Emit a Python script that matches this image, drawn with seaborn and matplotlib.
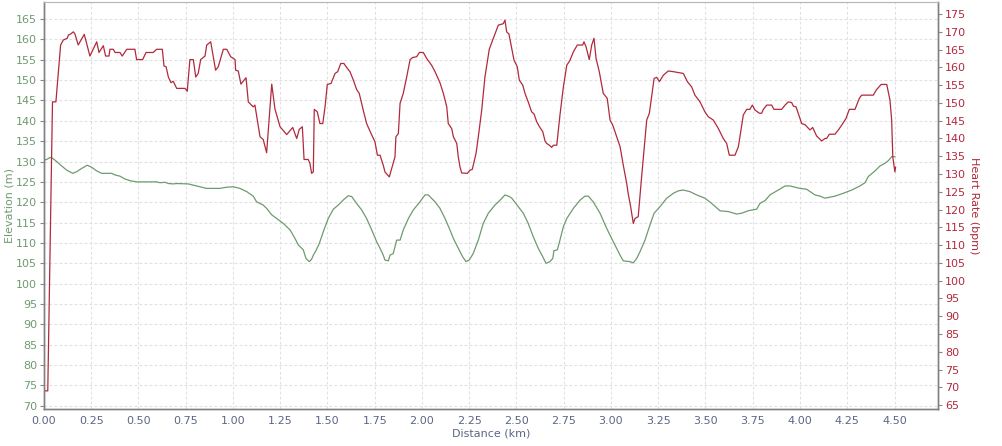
import numpy as np
import pandas as pd
import matplotlib
matplotlib.use("Agg")
import matplotlib.pyplot as plt
import seaborn as sns

# elevation profile (km, m)
elev_km = [0.000, 0.014, 0.032, 0.046, 0.067, 0.094, 0.120, 0.152, 0.173, 0.199, 0.229, 0.252,
           0.279, 0.305, 0.358, 0.376, 0.402, 0.429, 0.455, 0.490, 0.596, 0.614, 0.640, 0.658,
           0.684, 0.702, 0.763, 0.808, 0.861, 0.931, 0.967, 1.002, 1.037, 1.073, 1.107, 1.125,
           1.160, 1.178, 1.205, 1.231, 1.266, 1.302, 1.328, 1.346, 1.372, 1.386, 1.404, 1.416,
           1.425, 1.439, 1.457, 1.478, 1.504, 1.531, 1.557, 1.587, 1.610, 1.628, 1.654, 1.681,
           1.707, 1.734, 1.760, 1.778, 1.795, 1.804, 1.822, 1.831, 1.848, 1.866, 1.884, 1.901,
           1.928, 1.954, 1.989, 2.016, 2.033, 2.069, 2.095, 2.122, 2.148, 2.166, 2.192, 2.215,
           2.233, 2.250, 2.271, 2.298, 2.324, 2.351, 2.386, 2.413, 2.439, 2.462, 2.475, 2.510,
           2.536, 2.562, 2.589, 2.615, 2.639, 2.656, 2.677, 2.692, 2.698, 2.716, 2.730, 2.748,
           2.766, 2.801, 2.836, 2.862, 2.880, 2.906, 2.942, 2.977, 3.012, 3.048, 3.065, 3.101,
           3.118, 3.136, 3.153, 3.180, 3.206, 3.228, 3.259, 3.295, 3.330, 3.356, 3.383, 3.418,
           3.453, 3.497, 3.533, 3.577, 3.621, 3.665, 3.691, 3.726, 3.771, 3.788, 3.815, 3.841,
           3.885, 3.921, 3.947, 4.000, 4.035, 4.079, 4.106, 4.132, 4.185, 4.229, 4.274, 4.317,
           4.344, 4.361, 4.397, 4.423, 4.450, 4.467, 4.485, 4.503]
elevation = [130.4, 130.5, 131.0, 130.8, 130.0, 128.9, 127.9, 127.1, 127.5, 128.3, 129.1, 128.6,
             127.7, 127.1, 127.1, 126.7, 126.4, 125.7, 125.3, 125.0, 125.0, 124.8, 124.9, 124.6,
             124.5, 124.6, 124.5, 124.0, 123.4, 123.4, 123.7, 123.8, 123.4, 122.6, 121.5, 120.1,
             119.3, 118.5, 116.9, 116.0, 114.8, 113.2, 111.1, 109.5, 108.3, 106.2, 105.4, 106.0,
             107.0, 108.1, 109.9, 112.8, 116.0, 118.3, 119.3, 120.7, 121.6, 121.4, 119.7, 118.1,
             116.0, 113.2, 110.3, 108.7, 107.0, 105.8, 105.6, 107.0, 107.4, 110.7, 110.7, 113.2,
             116.0, 118.1, 120.1, 121.8, 121.8, 120.1, 118.5, 116.0, 113.2, 111.1, 108.7, 106.6,
             105.4, 105.8, 107.4, 110.7, 114.8, 117.3, 119.3, 120.5, 121.8, 121.4, 121.0, 118.9,
             117.3, 114.8, 111.5, 108.7, 106.6, 105.0, 105.4, 106.2, 108.1, 108.3, 110.7, 114.0,
             116.0, 118.5, 120.5, 121.5, 121.5, 120.1, 117.3, 113.6, 110.3, 107.0, 105.6, 105.4,
             105.1, 106.2, 107.8, 110.7, 114.4, 117.3, 118.9, 121.0, 122.2, 122.8, 123.0, 122.6,
             121.8, 121.0, 119.7, 117.9, 117.7, 117.1, 117.3, 117.9, 118.3, 119.7, 120.4, 121.8,
             123.0, 124.0, 124.0, 123.4, 123.2, 121.8, 121.5, 121.0, 121.5, 122.2, 123.0, 124.0,
             124.8, 126.3, 127.7, 128.9, 129.6, 130.2, 131.2, 131.2]

# heart rate (km, bpm)
hr_km = [0.000, 0.020, 0.045, 0.063, 0.088, 0.102, 0.123, 0.129, 0.141, 0.155, 0.164, 0.181,
         0.213, 0.243, 0.279, 0.291, 0.314, 0.326, 0.344, 0.349, 0.367, 0.376, 0.402, 0.414,
         0.438, 0.481, 0.490, 0.522, 0.540, 0.578, 0.596, 0.626, 0.635, 0.646, 0.658, 0.672,
         0.684, 0.702, 0.746, 0.758, 0.772, 0.790, 0.803, 0.816, 0.829, 0.852, 0.861, 0.882,
         0.908, 0.922, 0.949, 0.967, 0.988, 1.011, 1.014, 1.028, 1.042, 1.069, 1.081, 1.107,
         1.116, 1.143, 1.160, 1.178, 1.205, 1.222, 1.249, 1.284, 1.316, 1.337, 1.351, 1.367,
         1.376, 1.398, 1.407, 1.416, 1.425, 1.430, 1.446, 1.460, 1.475, 1.487, 1.499, 1.519,
         1.540, 1.554, 1.570, 1.587, 1.601, 1.619, 1.637, 1.654, 1.668, 1.689, 1.707, 1.734,
         1.751, 1.764, 1.778, 1.795, 1.804, 1.827, 1.840, 1.857, 1.862, 1.875, 1.884, 1.901,
         1.919, 1.937, 1.951, 1.972, 1.986, 2.007, 2.025, 2.051, 2.069, 2.095, 2.113, 2.131,
         2.139, 2.157, 2.166, 2.184, 2.192, 2.201, 2.210, 2.240, 2.254, 2.266, 2.286, 2.298,
         2.316, 2.333, 2.356, 2.374, 2.404, 2.430, 2.439, 2.448, 2.460, 2.475, 2.487, 2.504,
         2.515, 2.533, 2.545, 2.562, 2.580, 2.593, 2.607, 2.624, 2.639, 2.651, 2.660, 2.674,
         2.686, 2.695, 2.713, 2.730, 2.748, 2.766, 2.783, 2.801, 2.822, 2.850, 2.857, 2.868,
         2.885, 2.898, 2.910, 2.921, 2.938, 2.959, 2.980, 2.995, 3.009, 3.030, 3.048, 3.065,
         3.083, 3.091, 3.104, 3.118, 3.127, 3.144, 3.162, 3.189, 3.203, 3.228, 3.242, 3.256,
         3.277, 3.303, 3.330, 3.383, 3.404, 3.427, 3.444, 3.471, 3.497, 3.515, 3.541, 3.568,
         3.594, 3.612, 3.626, 3.656, 3.674, 3.700, 3.718, 3.735, 3.748, 3.762, 3.785, 3.797,
         3.806, 3.824, 3.850, 3.862, 3.903, 3.921, 3.938, 3.956, 3.965, 3.979, 4.009, 4.026,
         4.053, 4.067, 4.088, 4.115, 4.132, 4.141, 4.155, 4.185, 4.203, 4.221, 4.243, 4.261,
         4.291, 4.314, 4.326, 4.388, 4.403, 4.429, 4.459, 4.476, 4.485, 4.491, 4.502, 4.506]
heart_rate = [69.0, 69.0, 150.3, 150.3, 166.3, 167.7, 168.2, 169.1, 169.4, 170.0, 169.4, 166.3,
              169.3, 163.2, 167.2, 164.2, 166.1, 163.2, 163.2, 165.1, 165.1, 164.2, 164.2, 163.2,
              165.1, 165.1, 162.2, 162.2, 164.2, 164.2, 165.1, 165.1, 160.4, 160.2, 157.3, 155.7,
              156.1, 154.1, 154.1, 153.3, 162.2, 162.2, 157.3, 158.3, 162.2, 163.2, 166.3, 167.2,
              159.2, 160.2, 165.1, 165.1, 163.0, 162.2, 159.2, 159.0, 155.3, 157.1, 150.3, 148.9,
              149.4, 140.5, 139.7, 136.0, 155.3, 148.3, 143.3, 141.1, 143.1, 140.0, 142.6, 143.3,
              134.1, 134.1, 133.0, 130.2, 130.6, 148.2, 147.5, 144.2, 144.2, 148.9, 155.2, 155.5,
              158.3, 158.8, 161.1, 161.1, 160.0, 158.8, 156.4, 153.8, 152.7, 148.0, 144.2, 141.0,
              139.1, 135.3, 135.3, 132.5, 130.6, 129.2, 131.6, 134.8, 140.5, 141.4, 149.9, 152.7,
              157.3, 162.2, 162.8, 163.0, 164.2, 164.2, 162.5, 160.6, 158.8, 155.7, 152.7, 148.9,
              144.2, 142.8, 140.5, 138.6, 134.8, 132.0, 130.3, 130.2, 131.1, 131.3, 135.8, 140.5,
              148.0, 157.3, 165.1, 167.7, 171.9, 172.3, 173.3, 170.0, 169.4, 165.3, 162.0, 160.2,
              156.4, 155.0, 152.7, 150.3, 147.5, 146.9, 144.7, 143.1, 141.9, 139.3, 138.6, 138.1,
              137.5, 138.1, 138.1, 146.6, 154.5, 160.6, 162.0, 164.4, 166.3, 166.3, 167.2, 165.8,
              162.2, 166.3, 168.2, 162.5, 158.8, 152.7, 151.3, 145.2, 143.8, 140.5, 137.7, 132.5,
              127.4, 124.5, 120.8, 116.1, 117.5, 118.0, 129.2, 145.2, 147.1, 156.9, 157.2, 156.0,
              157.8, 159.0, 158.8, 158.3, 156.0, 154.5, 152.2, 150.3, 147.5, 146.1, 145.2, 142.8,
              140.0, 138.6, 135.3, 135.3, 137.7, 146.6, 148.2, 148.2, 149.4, 148.0, 147.1, 147.1,
              148.2, 149.4, 149.4, 148.2, 148.2, 149.4, 150.3, 150.1, 149.1, 148.9, 144.2, 143.9,
              142.4, 143.1, 140.7, 139.3, 140.0, 140.0, 141.2, 141.2, 142.4, 143.8, 145.6, 148.2,
              148.2, 151.3, 152.2, 152.2, 153.6, 155.2, 155.2, 150.8, 145.2, 134.8, 130.6, 132.0]

x_ticks = [0.00, 0.25, 0.50, 0.75, 1.00, 1.25, 1.50, 1.75, 2.00, 2.25, 2.50, 2.75,
           3.00, 3.25, 3.50, 3.75, 4.00, 4.25, 4.50]
elev_ticks = list(range(70, 166, 5))
hr_ticks = list(range(65, 176, 5))

GREEN = "#6f9a6f"
RED = "#b02a3c"
SLATE = "#5c6684"

sns.set_style("white")
plt.rcParams["font.family"] = ["DejaVu Sans"]

df_elev = pd.DataFrame({"km": elev_km, "elev": elevation})
df_hr = pd.DataFrame({"km": hr_km, "hr": heart_rate})

fig = plt.figure(figsize=(10.02, 4.46), dpi=100)
ax = fig.add_axes([0.0439, 0.083, 0.8922, 0.9125])
ax2 = ax.twinx()

sns.lineplot(data=df_elev, x="km", y="elev", ax=ax, color=GREEN, lw=0.9,
             sort=False, estimator=None)
sns.lineplot(data=df_hr, x="km", y="hr", ax=ax2, color=RED, lw=0.9,
             sort=False, estimator=None)

ax.set_xlim(0, 4.73)
ax.set_ylim(69.2, 169.2)
ax2.set_ylim(63.9, 178.4)

ax.set_xticks(x_ticks)
ax.set_xticklabels([f"{t:.2f}" for t in x_ticks])
ax.set_yticks(elev_ticks)
ax2.set_yticks(hr_ticks)

ax.grid(True, color="#e0e0e0", linestyle=(0, (2.5, 2)), linewidth=0.8)
ax.set_axisbelow(True)

ax.tick_params(axis="x", colors="#888888", labelcolor=SLATE, labelsize=8, length=3, pad=2)
ax.tick_params(axis="y", colors="#888888", labelcolor=GREEN, labelsize=8, length=3, pad=2)
ax2.tick_params(axis="y", colors="#888888", labelcolor=RED, labelsize=8, length=3, pad=2)

for a in (ax, ax2):
    for side in ("left", "bottom", "right"):
        a.spines[side].set_color("#808080")
        a.spines[side].set_linewidth(1.0)
    a.spines["top"].set_color("#b8b8b8")

ax.set_xlabel("Distance (km)", color=SLATE, fontsize=8, labelpad=2)
ax.set_ylabel("Elevation (m)", color=GREEN, fontsize=8, labelpad=1)
ax2.set_ylabel("Heart Rate (bpm)", color=RED, fontsize=8, rotation=270, labelpad=9)

fig.savefig("out.png", dpi=100)
